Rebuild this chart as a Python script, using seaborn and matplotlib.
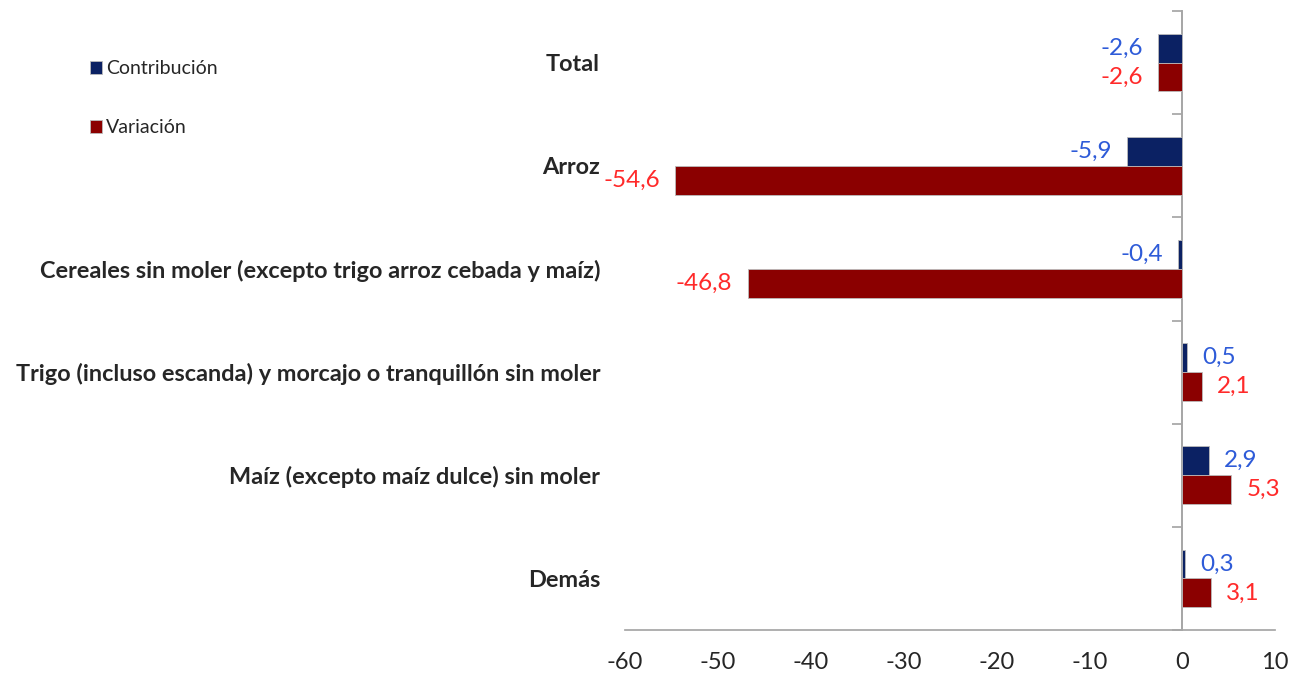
import matplotlib

matplotlib.use("Agg")
import matplotlib.pyplot as plt
import numpy as np
import pandas as pd
import seaborn as sns

categories = [
    "Total",
    "Arroz",
    "Cereales sin moler (excepto trigo arroz cebada y maíz)",
    "Trigo (incluso escanda) y morcajo o tranquillón sin moler",
    "Maíz (excepto maíz dulce) sin moler",
    "Demás",
]
contribucion = [-2.6, -5.9, -0.4, 0.5, 2.9, 0.3]
variacion = [-2.6, -54.6, -46.8, 2.1, 5.3, 3.1]
series_names = ["Contribución", "Variación"]
x_ticks = [-60, -50, -40, -30, -20, -10, 0, 10]

df = pd.DataFrame({
    "categoria": categories * 2,
    "serie": [series_names[0]] * len(categories) + [series_names[1]] * len(categories),
    "valor": contribucion + variacion,
})

sns.set_theme(style="white")
plt.rcParams["font.family"] = ["Lato", "DejaVu Sans"]

palette = {"Contribución": "#0B2163", "Variación": "#8B0000"}
label_colors = ["#2E5BD8", "#FF2A2A"]
axis_gray = "#A6A6A6"

fig = plt.figure(figsize=(12.91, 6.74), dpi=100)
ax = fig.add_axes([625 / 1291, 1 - 630 / 674, 650 / 1291, (630 - 11) / 674])

sns.barplot(data=df, y="categoria", x="valor", hue="serie", order=categories,
            hue_order=series_names, palette=palette, orient="h", width=0.56,
            edgecolor="#BBBBBB", linewidth=0.6, saturation=1, ax=ax)

for cont, col in zip(ax.containers, label_colors):
    vals = cont.datavalues
    ax.bar_label(cont, labels=[f"{v:.1f}".replace(".", ",") for v in vals],
                 padding=11, color=col, fontsize=17.5)

ax.set_xlim(-60, 10)
ax.set_xticks(x_ticks)
ax.set_xticklabels([str(t) for t in x_ticks], fontsize=17)
ax.set_xlabel("")
ax.set_ylabel("")
ax.tick_params(axis="x", length=7, color=axis_gray, width=1, direction="out", pad=9)
ax.tick_params(axis="y", length=0, pad=18, labelsize=16.9)
for lab in ax.get_yticklabels():
    lab.set_fontweight("bold")

for side in ["left", "right", "top"]:
    ax.spines[side].set_visible(False)
ax.spines["bottom"].set_color(axis_gray)

# vertical axis line at zero with category separators
sec = ax.secondary_yaxis(60 / 70)
sec.set_yticks(np.arange(-0.5, len(categories), 1.0))
sec.yaxis.set_ticks_position("left")
sec.tick_params(length=7, color=axis_gray, labelleft=False, labelright=False,
                direction="out")
for side in ["left", "right"]:
    sec.spines[side].set_visible(True)
    sec.spines[side].set_color(axis_gray)
for side in ["top", "bottom"]:
    sec.spines[side].set_visible(False)

sns.move_legend(ax, loc="upper left", bbox_to_anchor=(72 / 1291, 1 - 43 / 674),
                bbox_transform=fig.transFigure, frameon=False, title=None,
                fontsize=14, labelspacing=2.15, handlelength=0.65, handleheight=0.65,
                handletextpad=0.2)

fig.savefig("out.png", dpi=100)
